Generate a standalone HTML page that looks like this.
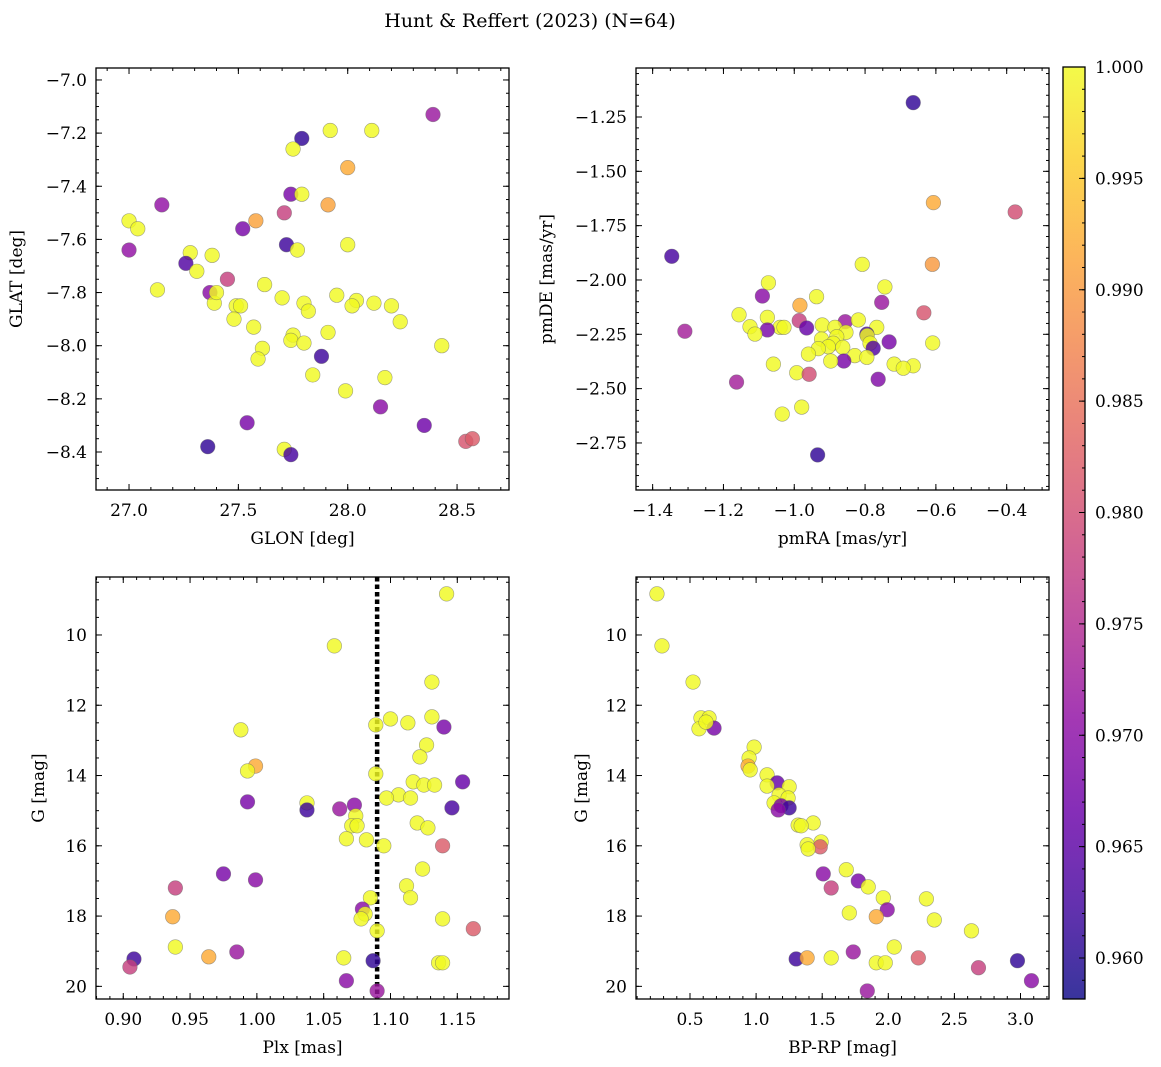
<!DOCTYPE html>
<html><head><meta charset="utf-8"><style>
html,body{margin:0;padding:0;background:#fff;}
svg{display:block;font-family:"DejaVu Serif","Liberation Serif",serif;}
</style></head><body>
<svg id="fig" width="1161" height="1067" viewBox="0 0 1161 1067">
<text x="530" y="27" font-size="19" text-anchor="middle">Hunt &amp; Reffert (2023) (N=64)</text>
</svg>
<script>
// ---- Panel 1: GLON / GLAT ----
const p1Glon=[28.39,28.11,27.79,27.92,27.75,28.00,27.74,27.79,27.91,27.15,27.00,27.04,27.58,27.52,27.71,27.72,28.00,27.77,27.00,27.28,27.38,27.26,27.31,27.45,27.13,27.62,27.37,27.39,27.40,27.49,27.95,27.70,28.04,27.80,27.82,28.02,28.12,28.20,27.51,27.48,28.24,27.57,27.75,27.74,27.91,27.80,27.61,28.43,27.88,27.59,27.84,28.17,27.99,28.15,27.54,28.35,27.36,27.71,27.74,28.54,28.57];
const p1Glat=[-7.13,-7.19,-7.22,-7.19,-7.26,-7.33,-7.43,-7.43,-7.47,-7.47,-7.53,-7.56,-7.53,-7.56,-7.50,-7.62,-7.62,-7.64,-7.64,-7.65,-7.66,-7.69,-7.72,-7.75,-7.79,-7.77,-7.80,-7.84,-7.80,-7.85,-7.81,-7.82,-7.83,-7.84,-7.87,-7.85,-7.84,-7.85,-7.85,-7.90,-7.91,-7.93,-7.96,-7.98,-7.95,-7.99,-8.01,-8.00,-8.04,-8.05,-8.11,-8.12,-8.17,-8.23,-8.29,-8.30,-8.38,-8.39,-8.41,-8.36,-8.35];
const p1Prob=[0.972,1,0.961,1,1,0.992,0.968,1,0.991,0.971,1,1,0.991,0.968,0.978,0.962,1,1,0.971,1,1,0.964,1,0.978,1,1,0.970,1,1,1,1,1,1,1,1,1,1,1,1,1,1,1,1,1,1,1,1,1,0.962,1,1,1,1,0.970,0.968,0.967,0.961,1,0.963,0.981,0.982];
// ---- Panel 2: pmRA / pmDE ----
const p2PmRA=[-0.664,-0.607,-0.376,-1.346,-0.610,-0.808,-1.073,-0.744,-1.090,-0.937,-0.753,-0.984,-0.634,-1.156,-1.076,-0.986,-0.856,-0.819,-0.921,-1.125,-1.040,-1.029,-0.965,-1.076,-0.885,-0.767,-1.309,-1.111,-0.854,-0.795,-0.794,-0.880,-0.923,-0.890,-0.786,-0.732,-0.609,-0.777,-0.904,-0.932,-0.863,-0.960,-0.829,-0.795,-0.860,-0.897,-1.059,-0.718,-0.664,-0.692,-0.993,-0.958,-0.763,-1.163,-0.979,-1.034,-0.934];
const p2PmDE=[-1.184,-1.644,-1.687,-1.891,-1.928,-1.928,-2.013,-2.032,-2.074,-2.077,-2.103,-2.117,-2.151,-2.160,-2.172,-2.187,-2.192,-2.184,-2.207,-2.215,-2.218,-2.218,-2.221,-2.230,-2.218,-2.218,-2.236,-2.249,-2.241,-2.249,-2.256,-2.261,-2.272,-2.291,-2.291,-2.285,-2.290,-2.314,-2.307,-2.316,-2.310,-2.341,-2.348,-2.356,-2.373,-2.373,-2.387,-2.387,-2.395,-2.406,-2.427,-2.434,-2.457,-2.470,-2.585,-2.617,-2.805];
const p2Prob=[0.961,0.992,0.980,0.963,0.990,1,1,1,0.970,1,0.972,0.992,0.981,1,1,0.978,0.972,1,1,1,1,1,0.966,0.968,1,1,0.973,1,1,0.963,1,1,1,1,1,0.968,1,0.964,1,1,1,1,1,1,0.968,1,1,1,1,1,1,0.980,0.969,0.973,1,1,0.961];
// ---- Panel 3: Plx / G ----
const p3Plx=[1.142,1.058,1.131,1.100,1.131,1.089,1.113,1.140,0.988,1.127,1.122,0.999,0.993,1.089,1.117,1.125,1.133,1.154,1.106,1.097,1.115,0.993,1.0375,1.0375,1.062,1.073,1.146,1.074,1.120,1.128,1.071,1.075,1.082,1.067,1.095,1.139,1.124,0.975,0.999,0.939,1.112,1.115,1.085,1.079,1.081,1.078,0.937,1.139,1.090,1.162,0.939,0.985,0.964,0.908,1.065,1.087,1.136,1.139,0.905,1.067,1.090];
const p3G=[8.83,10.31,11.34,12.39,12.33,12.56,12.50,12.62,12.70,13.13,13.47,13.73,13.87,13.95,14.18,14.27,14.27,14.18,14.55,14.64,14.64,14.75,14.78,14.98,14.95,14.84,14.92,15.15,15.35,15.49,15.43,15.43,15.83,15.80,16.00,16.00,16.66,16.80,16.97,17.20,17.14,17.48,17.48,17.80,17.94,18.08,18.02,18.08,18.42,18.36,18.88,19.02,19.16,19.22,19.19,19.27,19.33,19.33,19.45,19.84,20.13];
const p3Prob=[1,1,1,1,1,1,1,0.968,1,1,1,0.992,1,1,1,1,1,0.966,1,1,1,0.968,1,0.962,0.972,0.970,0.963,1,1,1,1,1,1,1,1,0.982,1,0.968,0.970,0.978,1,1,1,0.970,1,1,0.992,1,1,0.982,1,0.972,0.992,0.962,1,0.961,1,1,0.978,0.970,0.972];
const plxRef=[1.090];
// ---- Panel 4: BP-RP / G ----
const p4Color=[0.25,0.288,0.523,0.583,0.644,0.568,0.682,0.621,0.985,0.947,0.939,0.955,1.083,1.159,1.083,1.25,1.174,1.136,1.242,1.189,1.25,1.167,1.432,1.318,1.341,1.492,1.386,1.485,1.394,1.682,1.508,1.773,1.848,1.568,1.962,2.288,1.992,1.705,1.909,2.348,2.629,2.045,1.735,2.227,1.303,1.386,1.568,1.909,1.977,2.977,2.682,3.083,1.841];
const p4G=[8.83,10.31,11.34,12.36,12.36,12.67,12.65,12.48,13.19,13.50,13.73,13.84,13.98,14.21,14.30,14.32,14.55,14.78,14.64,14.86,14.92,14.98,15.35,15.41,15.43,15.89,15.97,16.03,16.09,16.68,16.80,17.00,17.17,17.20,17.48,17.51,17.82,17.91,18.02,18.11,18.42,18.88,19.02,19.19,19.22,19.19,19.19,19.33,19.33,19.27,19.47,19.84,20.13];
const p4Prob=[1,1,1,1,1,1,0.968,1,1,1,0.992,1,1,0.966,1,1,1,1,1,0.968,0.962,0.970,1,1,1,1,1,0.982,1,1,0.970,0.968,1,0.978,1,1,0.970,1,0.992,1,1,1,0.972,0.982,0.962,0.992,1,1,1,0.961,0.978,0.970,0.972];
// ---- Colorbar ----
const cbarTicks=[0.960,0.965,0.970,0.975,0.980,0.985,0.990,0.995,1.000];
const cbarRange=[0.95816,1.0];

const NS='http://www.w3.org/2000/svg';
const svg=document.getElementById('fig');
function mk(tag,attrs,parent){const e=document.createElementNS(NS,tag);for(const k in attrs)e.setAttribute(k,attrs[k]);(parent||svg).appendChild(e);return e;}
const stops=[[13,8,135],[65,4,157],[106,0,168],[143,13,164],[177,42,144],[204,71,120],[225,100,98],[242,132,75],[252,166,54],[252,206,37],[240,249,33]];
function plasma(t){t=Math.max(0,Math.min(1,t));const f=t*10,i=Math.min(9,Math.floor(f)),r=f-i;const a=stops[i],b=stops[i+1];return 'rgb('+a.map((v,k)=>Math.round(v+(b[k]-v)*r)).join(',')+')';}
function cnorm(v){return (v-cbarRange[0])/(cbarRange[1]-cbarRange[0]);}
function range(a,b,s){const o=[];for(let v=a;v<=b+s*1e-6;v+=s)o.push(+v.toFixed(6));return o;}
const FS=17;

function panel(id,box,xr,yr,xMaj,xMin,yMaj,yMin,xDec,yDec,xlab,ylab,ylabX){
  const g=mk('g',{});
  
  
  const sx=v=>box.l+(v-xr[0])/(xr[1]-xr[0])*(box.r-box.l);
  const sy=v=>box.t+(v-yr[0])/(yr[1]-yr[0])*(box.b-box.t);
  const ticks=mk('g',{stroke:'#000','stroke-width':1},g);
  
  
  const inX=v=>v>=Math.min(...xr)-1e-9&&v<=Math.max(...xr)+1e-9;
  const inY=v=>v>=Math.min(...yr)-1e-9&&v<=Math.max(...yr)+1e-9;
  xMin.filter(inX).forEach(v=>{const x=sx(v);mk('line',{x1:x,x2:x,y1:box.b,y2:box.b-3},ticks);mk('line',{x1:x,x2:x,y1:box.t,y2:box.t+3},ticks);});
  yMin.filter(inY).forEach(v=>{const y=sy(v);mk('line',{x1:box.l,x2:box.l+3,y1:y,y2:y},ticks);mk('line',{x1:box.r,x2:box.r-3,y1:y,y2:y},ticks);});
  xMaj.filter(inX).forEach(v=>{const x=sx(v);mk('line',{x1:x,x2:x,y1:box.b,y2:box.b-6},ticks);mk('line',{x1:x,x2:x,y1:box.t,y2:box.t+6},ticks);
    const t=mk('text',{x:x,y:box.b+26,'font-size':FS,'text-anchor':'middle'},g);t.textContent=v.toFixed(xDec).replace('-','\u2212');
    
    });
  yMaj.filter(inY).forEach(v=>{const y=sy(v);mk('line',{x1:box.l,x2:box.l+6,y1:y,y2:y},ticks);mk('line',{x1:box.r,x2:box.r-6,y1:y,y2:y},ticks);
    const t=mk('text',{x:box.l-9,y:y+6,'font-size':FS,'text-anchor':'end'},g);t.textContent=v.toFixed(yDec).replace('-','\u2212');
    
    });
  const xl=mk('text',{x:(box.l+box.r)/2,y:box.b+54,'font-size':FS,'text-anchor':'middle'},g);xl.textContent=xlab;
  
  
  const cy=(box.t+box.b)/2;
  const yl=mk('text',{x:ylabX,y:cy,'font-size':FS,'text-anchor':'middle',transform:'rotate(-90 '+ylabX+' '+cy+')'},g);yl.textContent=ylab;
  
  
  return {g,sx,sy,box};
}
function scatter(P,xs,ys,ps,name){
  const grp=mk('g',{},P.g);
  
  
  xs.forEach((v,i)=>{const c=mk('circle',{cx:P.sx(v),cy:P.sy(ys[i]),r:7.3,fill:plasma(cnorm(ps[i])),'fill-opacity':0.82,stroke:'#666','stroke-opacity':0.6,'stroke-width':0.6},grp);
    
    });
}
function frame(P){const r=mk('rect',{x:P.box.l,y:P.box.t,width:P.box.r-P.box.l,height:P.box.b-P.box.t,fill:'none',stroke:'#000','stroke-width':1.3},P.g);
  
  }

const P1=panel('panel-glon-glat',{l:96,r:509,t:68,b:490},[26.849,28.7375],[-6.955,-8.543],range(27,28.5,0.5),range(26.9,28.7,0.1),[-7.0,-7.2,-7.4,-7.6,-7.8,-8.0,-8.2,-8.4],range(-8.5,-6.95,0.05),1,1,'GLON [deg]','GLAT [deg]',22);
scatter(P1,p1Glon,p1Glat,p1Prob,'glon-glat-points');frame(P1);
const P2=panel('panel-pm',{l:636,r:1049,t:68,b:490},[-1.447,-0.2805],[-1.0245,-2.9665],range(-1.4,-0.4,0.2),range(-1.45,-0.3,0.05),[-1.25,-1.5,-1.75,-2.0,-2.25,-2.5,-2.75],range(-2.95,-1.05,0.05),1,2,'pmRA [mas/yr]','pmDE [mas/yr]',552);
scatter(P2,p2PmRA,p2PmDE,p2Prob,'proper-motion-points');frame(P2);
const P3=panel('panel-plx-g',{l:96,r:509,t:577,b:999},[0.8796,1.1887],[8.35,20.36],range(0.9,1.15,0.05),range(0.88,1.18,0.01),range(10,20,2),range(8.5,20,0.5),2,0,'Plx [mas]','G [mag]',44);
const dl=mk('line',{x1:P3.sx(plxRef[0]),x2:P3.sx(plxRef[0]),y1:577,y2:999,stroke:'#000','stroke-width':4.5,'stroke-dasharray':'4.5 3'},P3.g);


scatter(P3,p3Plx,p3G,p3Prob,'plx-g-points');frame(P3);
const P4=panel('panel-cmd',{l:636,r:1049,t:577,b:999},[0.0915,3.2156],[8.35,20.36],range(0.5,3.0,0.5),range(0.1,3.2,0.1),range(10,20,2),range(8.5,20,0.5),1,0,'BP-RP [mag]','G [mag]',587);
scatter(P4,p4Color,p4G,p4Prob,'cmd-points');frame(P4);

// colorbar
const cb=mk('g',{});


const defs=mk('defs',{},cb);const lg=mk('linearGradient',{id:'pl',x1:0,y1:1,x2:0,y2:0},defs);
for(let i=0;i<=20;i++)mk('stop',{offset:i/20,'stop-color':plasma(i/20),'stop-opacity':0.82},lg);
const cbT=67,cbB=999,cbL=1063,cbR=1085;
mk('rect',{x:cbL,y:cbT,width:cbR-cbL,height:cbB-cbT,fill:'url(#pl)'},cb);
const cy=v=>cbB-(v-cbarRange[0])/(cbarRange[1]-cbarRange[0])*(cbB-cbT);
range(0.959,1.0,0.001).forEach(v=>{const y=cy(v);mk('line',{x1:cbR,x2:cbR-3,y1:y,y2:y,stroke:'#000'},cb);});
cbarTicks.forEach(v=>{const y=cy(v);mk('line',{x1:cbR,x2:cbR-6,y1:y,y2:y,stroke:'#000'},cb);
  const t=mk('text',{x:1095,y:y+6,'font-size':FS},cb);t.textContent=v.toFixed(3);
  
  });
mk('rect',{x:cbL,y:cbT,width:cbR-cbL,height:cbB-cbT,fill:'none',stroke:'#000','stroke-width':1.3},cb);
</script>
</body></html>
